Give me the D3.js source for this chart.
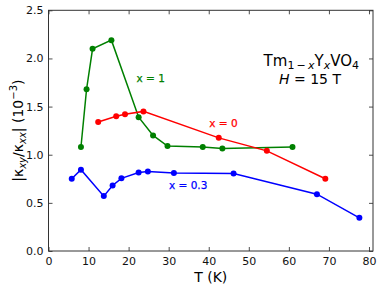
<!DOCTYPE html>
<html><head><meta charset="utf-8">
<script src="https://cdn.jsdelivr.net/npm/d3@7"></script>
<style>body{margin:0;background:#fff}svg{font-family:"DejaVu Sans",sans-serif}</style>
</head><body>
<script>
const T_x1 = [8.1, 9.5, 11.0, 15.7, 22.5, 26.1, 29.7, 38.5, 43.4, 60.9];
const R_x1 = [1.08, 1.68, 2.10, 2.19, 1.39, 1.20, 1.09, 1.08, 1.065, 1.08];
const T_x0 = [12.4, 16.9, 19.1, 23.7, 42.5, 54.5, 69.1];
const R_x0 = [1.34, 1.40, 1.42, 1.45, 1.175, 1.04, 0.75];
const T_x03 = [5.8, 8.1, 13.8, 16.0, 18.2, 22.5, 24.8, 31.3, 46.2, 67.0, 77.6];
const R_x03 = [0.75, 0.845, 0.57, 0.68, 0.755, 0.815, 0.825, 0.81, 0.805, 0.59, 0.345];
const xTicks = [0, 10, 20, 30, 40, 50, 60, 70, 80];
const yTicks = [0.0, 0.5, 1.0, 1.5, 2.0, 2.5];
const seriesNames = ["x = 1", "x = 0", "x = 0.3"];

const W = 382, H = 290;
const m = {l: 48.5, r: 9, t: 10.3, b: 39};
const svg = d3.select("body").append("svg").attr("width", W).attr("height", H);
const x = d3.scaleLinear().domain([0, 81]).range([m.l, W - m.r]);
const y = d3.scaleLinear().domain([0, 2.5]).range([H - m.b, m.t]);

const fmt = d3.format(".1f");
const tl = 4;
const gx = svg.append("g").attr("transform", `translate(0,${H - m.b})`)
  .call(d3.axisBottom(x).tickValues(xTicks).tickSize(-tl).tickPadding(6).tickFormat(d3.format("d")));
const gxt = svg.append("g").attr("transform", `translate(0,${m.t})`)
  .call(d3.axisTop(x).tickValues(xTicks).tickSize(-tl).tickFormat(""));
const gy = svg.append("g").attr("transform", `translate(${m.l},0)`)
  .call(d3.axisLeft(y).tickValues(yTicks).tickSize(-tl).tickPadding(5).tickFormat(fmt));
const gyr = svg.append("g").attr("transform", `translate(${W - m.r},0)`)
  .call(d3.axisRight(y).tickValues(yTicks).tickSize(-tl).tickFormat(""));
[gx, gxt, gy, gyr].forEach(g => {
  g.select(".domain").remove();
  g.selectAll("line").attr("stroke", "#222").attr("stroke-width", 0.8);
  g.selectAll("text").attr("font-size", 11).attr("fill", "#111").attr("font-family", "DejaVu Sans");
});
svg.append("rect").attr("x", m.l).attr("y", m.t).attr("width", W - m.r - m.l).attr("height", H - m.b - m.t)
  .attr("fill", "none").attr("stroke", "#333").attr("stroke-width", 1);

const series = [
  {T: T_x1, R: R_x1, c: "#008000", name: seriesNames[0], lx: 136.5, ly: 82.3},
  {T: T_x0, R: R_x0, c: "#ff0000", name: seriesNames[1], lx: 209.3, ly: 126.5},
  {T: T_x03, R: R_x03, c: "#0000ff", name: seriesNames[2], lx: 169, ly: 189}
];
const line = d3.line().x(d => x(d[0])).y(d => y(d[1]));
series.forEach(s => {
  const pts = s.T.map((t, i) => [t, s.R[i]]);
  svg.append("path").datum(pts).attr("d", line).attr("fill", "none").attr("stroke", s.c).attr("stroke-width", 1.5);
  svg.append("g").selectAll("circle").data(pts).join("circle")
    .attr("cx", d => x(d[0])).attr("cy", d => y(d[1])).attr("r", 3).attr("fill", s.c);
  svg.append("text").attr("x", s.lx).attr("y", s.ly).attr("fill", s.c).attr("font-size", 10.5)
    .attr("stroke", s.c).attr("stroke-width", 0.25).text(s.name);
});

const a = svg.append("text").attr("x", 359).attr("y", 66).attr("text-anchor", "end").attr("font-size", 15).attr("fill", "#000");
a.append("tspan").text("Tm");
a.append("tspan").attr("font-size", 11).attr("dy", 3).text("1\u2009\u2212\u2009");
a.append("tspan").attr("font-size", 11).attr("font-style", "italic").text("x");
a.append("tspan").attr("dy", -3).text("Y");
a.append("tspan").attr("font-size", 11).attr("font-style", "italic").attr("dy", 3).text("x");
a.append("tspan").attr("dy", -3).text("VO");
a.append("tspan").attr("font-size", 11).attr("dy", 3).text("4");
const h = svg.append("text").attr("x", 310).attr("y", 83.5).attr("text-anchor", "middle").attr("font-size", 14).attr("fill", "#000");
h.append("tspan").attr("font-style", "italic").text("H");
h.append("tspan").text(" = 15 T");

svg.append("text").attr("x", (m.l + W - m.r) / 2).attr("y", 282).attr("text-anchor", "middle")
  .attr("font-size", 14).text("T (K)");
const yl = svg.append("text").attr("transform", `translate(23,${(m.t + H - m.b) / 2}) rotate(-90)`)
  .attr("text-anchor", "middle").attr("font-size", 14);
yl.append("tspan").text("|\u03ba");
yl.append("tspan").attr("font-size", 10).attr("font-style", "italic").attr("dy", 3).text("xy");
yl.append("tspan").attr("dy", -3).text("/\u03ba");
yl.append("tspan").attr("font-size", 10).attr("font-style", "italic").attr("dy", 3).text("xx");
yl.append("tspan").attr("dy", -3).text("| (10");
yl.append("tspan").attr("font-size", 10).attr("dy", -6).text("\u22123");
yl.append("tspan").attr("dy", 6).text(")");
</script>
</body></html>
